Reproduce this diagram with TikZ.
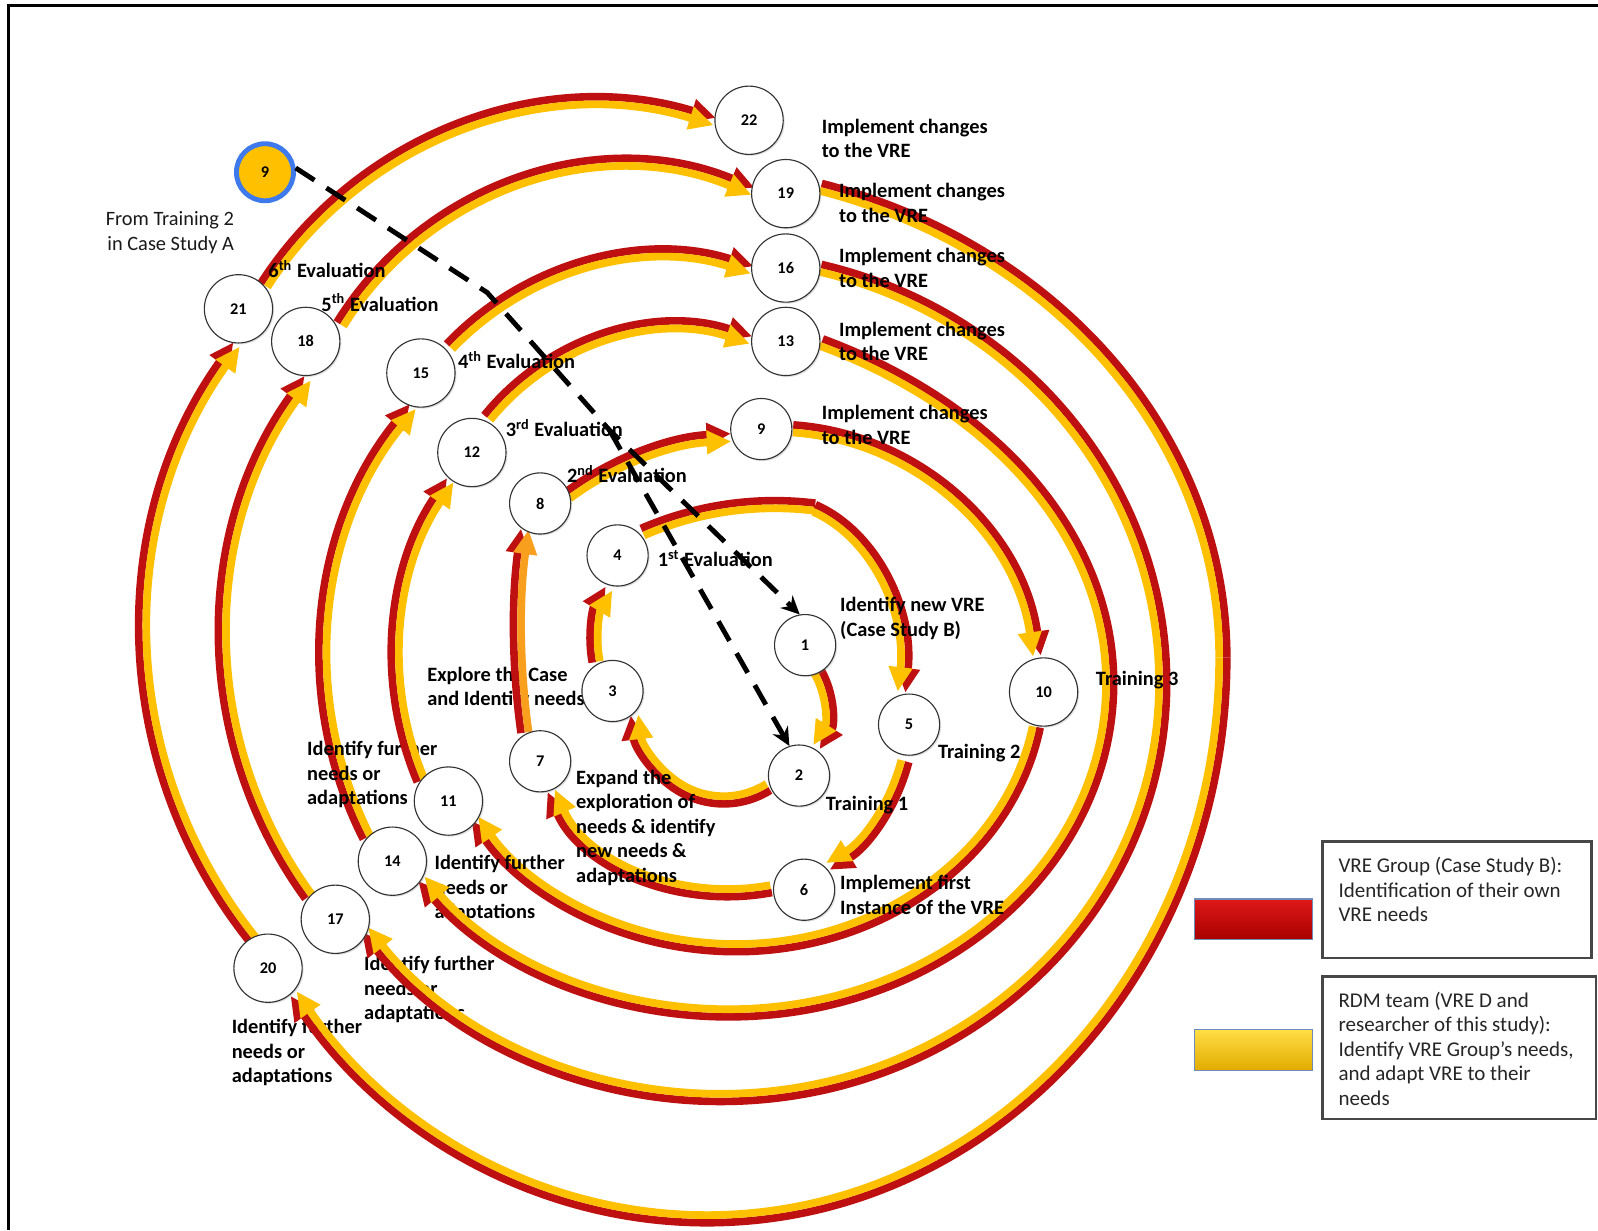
\documentclass[tikz,border=0pt]{standalone}
\usepackage{fontspec}
\setmainfont{Carlito}
\usetikzlibrary{arrows.meta,shadows}

\definecolor{ringred}{RGB}{190,16,16}
\definecolor{ringyellow}{RGB}{255,192,0}
\definecolor{ringorange}{RGB}{248,160,30}
\definecolor{startblue}{RGB}{62,122,236}
\definecolor{legredA}{RGB}{222,24,24}
\definecolor{legredM}{RGB}{204,0,0}
\definecolor{legredB}{RGB}{168,0,0}
\definecolor{legyelA}{RGB}{255,222,70}
\definecolor{legyelM}{RGB}{255,204,0}
\definecolor{legyelB}{RGB}{226,172,0}
\definecolor{legedge}{RGB}{110,140,185}

\newcommand\bandhalf{3.75}
\newcommand\bandinner{ringyellow}
% one red/yellow band: elliptical arc around (#2,#3), radii #4/#5, from angle #6 to #7
\newcommand\band[7][]{%
  \pgfmathsetmacro\bandrxo{#4+\bandhalf}%
  \pgfmathsetmacro\bandryo{#5+\bandhalf}%
  \pgfmathsetmacro\bandrxi{#4-\bandhalf}%
  \pgfmathsetmacro\bandryi{#5-\bandhalf}%
  \draw[bandline,color=ringred,#1] ({#2+\bandrxo*cos(#6)},{#3+\bandryo*sin(#6)})
     arc[start angle=#6,end angle=#7,x radius=\bandrxo,y radius=\bandryo];
  \draw[bandline,color=\bandinner,#1] ({#2+\bandrxi*cos(#6)},{#3+\bandryi*sin(#6)})
     arc[start angle=#6,end angle=#7,x radius=\bandrxi,y radius=\bandryi];
}

\begin{document}
\begin{tikzpicture}[x=0.5pt,y=-0.5pt,
  bandline/.style={line width=3.75pt},
  headed/.style={-{Triangle[length=12pt,width=11pt]}},
  stage/.style={circle, draw=black!80, line width=0.55pt, fill=white, inner sep=0pt,
    font=\fontsize{8}{9}\selectfont\bfseries,
    drop shadow={shadow xshift=0.7pt, shadow yshift=-0.7pt, opacity=0.25}},
  stagesm/.style={stage, minimum size=30pt},
  stagelg/.style={stage, minimum size=33.5pt},
  lbl/.style={anchor=west, align=left, inner sep=0pt, font=\fontsize{10}{12}\selectfont\bfseries},
  legtext/.style={anchor=west, align=left, inner sep=0pt, text=black!85, font=\fontsize{10.3}{12}\selectfont},
  dashlink/.style={line width=2.4pt, dash pattern=on 11pt off 7pt},
  dashhead/.style={-{Stealth[length=9pt,width=8.5pt]}},
  legbox/.style={draw=black!72, line width=1.4pt, fill=white}
]
\useasboundingbox (0,0) rectangle (1568,1207);
\fill[white] (0,0) rectangle (1568,1207);

% frame
\draw[line width=1.5pt] (1568,5) -- (8,5) -- (8,1207);

% labels lying under the bands
\node[lbl] (tExplore) at (419,675) {Explore the Case\\and Identify needs};
\node[lbl] (t17) at (357,971) {Identify further\\needs or\\adaptations};
\node[lbl] (t20) at (227,1033) {Identify further\\needs or\\adaptations};

% spiral bands (red outside, yellow inside)
\band[headed]{740}{695}{72}{72}{-31}{32}            % 1 -> 2
\band[headed]{710}{690}{88}{95}{60}{173}            % 2 -> 3
\band[headed]{685}{630}{102}{102}{169}{211}         % 3 -> 4
\band{760}{820}{325}{325}{246.5}{277}               % 4 -> 5 (first part)
\band[headed]{758}{655}{128}{165}{288.7}{368.4}     % 4 -> 5
\band[headed]{740}{700}{154}{170}{16}{62}           % 5 -> 6
\band[headed]{715}{725}{185}{151}{77}{160.3}        % 6 -> 7
\begin{scope}
\renewcommand\bandinner{ringorange}
\band[headed]{1225}{619}{717}{717}{172}{188}        % 7 -> 8
\end{scope}
\band[headed]{730}{720}{291}{291}{233.5}{267.5}     % 8 -> 9
\band[headed]{760}{680}{260}{260}{274}{352}         % 9 -> 10
\band[headed]{722}{665}{300}{265}{10.5}{148.6}      % 10 -> 11
\band[headed]{662.3}{558}{236.4}{236.4}{218.8}{288.4}   % 12 -> 13
\band[headed]{708.1}{645.1}{390.5}{390.5}{153.1}{219.1} % 14 -> 15
\band[headed]{649.1}{538.2}{287.4}{287.4}{223.6}{288}   % 15 -> 16
\band{700}{670}{441}{419}{283.8}{360}               % 16 -> 17 (upper part)
\band[headed]{707}{670}{434}{407}{0}{143.5}         % 16 -> 17
\band[headed]{652.4}{624.8}{432.7}{432.7}{143.9}{215.9} % 17 -> 18
\band[headed]{612.8}{490.5}{328}{328}{211.7}{292.6}     % 18 -> 19
\band{650}{645}{550}{481}{286.4}{360}               % 19 -> 20 (upper part)
\band[headed]{693.6}{645}{506.4}{551}{0}{143.2}     % 19 -> 20
\band[headed]{625.3}{619.5}{483.6}{483.6}{141.3}{215.6} % 20 -> 21
\band[headed]{586.1}{491.2}{389.4}{389.4}{212.9}{287.2} % 21 -> 22

% labels between the band layers
\node[lbl] (t11) at (301,760) {Identify further\\needs or\\adaptations};
\node[lbl] (t14) at (426,872) {Identify further\\needs or\\adaptations};

\band[headed]{698.9}{645.2}{310.4}{310.4}{157.1}{214.1} % 11 -> 12
\band{570}{670}{519}{375}{297}{360}                 % 13 -> 14 (upper part)
\band[headed]{714.7}{670}{374.3}{324}{0}{143.6}     % 13 -> 14

% labels on top of the bands
\node[lbl] (t22) at (806,136) {Implement changes\\to the VRE};
\node[lbl] (t19) at (823,199) {Implement changes\\to the VRE};
\node[lbl] (t16) at (823,263) {Implement changes\\to the VRE};
\node[lbl] (t13) at (823,335) {Implement changes\\to the VRE};
\node[lbl] (t9)  at (806,417) {Implement changes\\to the VRE};
\node[lbl] (e6) at (263,264) {6\textsuperscript{th} Evaluation};
\node[lbl] (e5) at (315,297) {5\textsuperscript{th} Evaluation};
\node[lbl] (e4) at (449,353) {4\textsuperscript{th} Evaluation};
\node[lbl] (e3) at (496,420) {3\textsuperscript{rd} Evaluation};
\node[lbl] (e2) at (556,465) {2\textsuperscript{nd} Evaluation};
\node[lbl] (e1) at (645,548) {1\textsuperscript{st} Evaluation};
\node[lbl] (tNew) at (824,607) {Identify new VRE\\(Case Study B)};
\node[lbl] (tr3) at (1075,667) {Training 3};
\node[lbl] (tr2) at (920,739) {Training 2};
\node[lbl] (tr1) at (810,790) {Training 1};
\node[lbl] (tExpand) at (565,812) {Expand the\\exploration of\\needs \& identify\\new needs \&\\adaptations};
\node[lbl] (tFirst) at (824,878) {Implement first\\Instance of the VRE};
\node[anchor=east, align=right, inner sep=0pt, text=black!90, font=\fontsize{10}{12.2}\selectfont] (tFrom) at (230,228) {From Training 2\\in Case Study A};

% stages
\node[stagesm] (n1) at (790,633) {1};
\node[stagesm] (n2) at (784,761) {2};
\node[stagesm] (n3) at (601,678) {3};
\node[stagesm] (n4) at (606,545) {4};
\node[stagesm] (n5) at (892,711) {5};
\node[stagesm] (n6) at (789,873) {6};
\node[stagesm] (n7) at (530,747) {7};
\node[stagesm] (n8) at (530,494) {8};
\node[stagesm] (n9) at (747,421) {9};
\node[stagelg] (n10) at (1024,679) {10};
\node[stagelg] (n11) at (440,786) {11};
\node[stagelg] (n12) at (463,444) {12};
\node[stagelg] (n13) at (771,335) {13};
\node[stagelg] (n14) at (385,845) {14};
\node[stagelg] (n15) at (413,366) {15};
\node[stagelg] (n16) at (771,263) {16};
\node[stagelg] (n17) at (329,902) {17};
\node[stagelg] (n18) at (300,335) {18};
\node[stagelg] (n19) at (771,190) {19};
\node[stagelg] (n20) at (263,950) {20};
\node[stagelg] (n21) at (234,303) {21};
\node[stagelg] (n22) at (735,118) {22};
\node[circle, minimum size=28pt, inner sep=0pt, fill=ringyellow, draw=startblue, line width=2.4pt,
      font=\fontsize{8}{9}\selectfont\bfseries] (y9) at (260,169) {9};

% dashed hand-over from Case Study A
\coordinate (bend) at (478,287);
\coordinate (branch) at (598,422);
\draw[dashlink,dashhead] (y9.8) -- (bend) -- (branch) -- (n1.100);
\draw[dashlink,dashhead] (branch) -- (n2.108);

% legend
\shade[top color=legredA, middle color=legredM, bottom color=legredB, draw=legedge, line width=0.6pt]
  (1172,882) rectangle (1288,922);
\shade[top color=legyelA, middle color=legyelM, bottom color=legyelB, draw=legedge, line width=0.6pt]
  (1172,1010) rectangle (1288,1050);
\draw[legbox] (1298,826) rectangle (1562,940);
\draw[legbox] (1298,958) rectangle (1566,1098);
\node[legtext] (legA) at (1313,873) {VRE Group (Case Study B):\\Identification of their own\\VRE needs};
\node[legtext] (legB) at (1313,1029) {RDM team (VRE D and\\researcher of this study):\\Identify VRE Group’s needs,\\and adapt VRE to their\\needs};
\end{tikzpicture}
\end{document}
